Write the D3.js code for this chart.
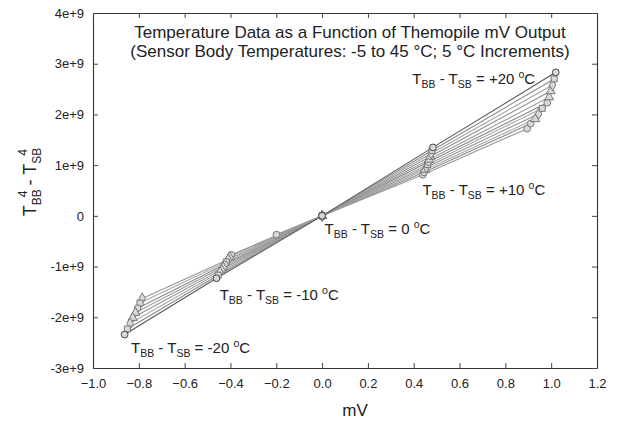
<!DOCTYPE html>
<html><head><meta charset="utf-8">
<script src="https://cdn.jsdelivr.net/npm/d3@7"></script>
<style>
html,body{margin:0;padding:0;background:#fff;}
text{font-family:"Liberation Sans",Arial,sans-serif;fill:#222;}
</style>
</head><body>
<svg id="chart" width="618" height="423"></svg>
<script>
// ---- data ----
const sensorTemps = [-5, 0, 5, 10, 15, 20, 25, 30, 35, 40, 45];   // sensor body temperature, °C
// T_BB - T_SB = +20 °C
const mvPlus20  = [0.895, 0.911, 0.930, 0.945, 0.961, 0.983, 0.991, 0.998, 1.006, 1.013, 1.020];
const valPlus20 = [1.72e9, 1.82e9, 1.91e9, 2.01e9, 2.12e9, 2.23e9, 2.34e9, 2.46e9, 2.58e9, 2.70e9, 2.83e9];
// T_BB - T_SB = +10 °C
const mvPlus10  = [0.440, 0.445, 0.450, 0.455, 0.460, 0.464, 0.468, 0.472, 0.476, 0.480, 0.484];
const valPlus10 = [0.81e9, 0.86e9, 0.91e9, 0.96e9, 1.01e9, 1.06e9, 1.11e9, 1.17e9, 1.23e9, 1.29e9, 1.35e9];
// T_BB - T_SB = 0 °C
const mvZero  = [0, 0, 0, 0, 0, 0, 0, 0, 0, 0, 0];
const valZero = [0, 0, 0, 0, 0, 0, 0, 0, 0, 0, 0];
// T_BB - T_SB = -5 °C (only the -5 °C sensor body)
const mvMinus5  = [-0.199, null, null, null, null, null, null, null, null, null, null];
const valMinus5 = [-0.37e9, null, null, null, null, null, null, null, null, null, null];
// T_BB - T_SB = -10 °C
const mvMinus10  = [null, -0.396, -0.403, -0.410, -0.418, -0.425, -0.432, -0.439, -0.446, -0.454, -0.461];
const valMinus10 = [null, -0.77e9, -0.81e9, -0.86e9, -0.91e9, -0.96e9, -1.01e9, -1.06e9, -1.11e9, -1.17e9, -1.23e9];
// T_BB - T_SB = -20 °C
const mvMinus20  = [null, null, null, -0.785, -0.795, -0.805, -0.815, -0.827, -0.838, -0.850, -0.862];
const valMinus20 = [null, null, null, -1.63e9, -1.72e9, -1.82e9, -1.91e9, -2.01e9, -2.12e9, -2.23e9, -2.34e9];

const xTicks = [-1.0, -0.8, -0.6, -0.4, -0.2, 0.0, 0.2, 0.4, 0.6, 0.8, 1.0, 1.2];
const yTicks = [-3e9, -2e9, -1e9, 0, 1e9, 2e9, 3e9, 4e9];
const titleLines = ["Temperature Data as a Function of Themopile mV Output",
                    "(Sensor Body Temperatures: -5 to 45 \u00B0C; 5 \u00B0C Increments)"];
// label anchors in data units (left end / baseline of each label)
const annotations = [
  {delta: "+20", mv: 0.394, val: 2.60e9},
  {delta: "+10", mv: 0.438, val: 0.42e9},
  {delta: "0",   mv: 0.011, val: -0.36e9},
  {delta: "-10", mv: -0.447, val: -1.66e9},
  {delta: "-20", mv: -0.834, val: -2.70e9}
];

// ---- build series ----
const levels = [[mvMinus20, valMinus20], [mvMinus10, valMinus10], [mvMinus5, valMinus5],
                [mvZero, valZero], [mvPlus10, valPlus10], [mvPlus20, valPlus20]];
const series = sensorTemps.map((t, i) => ({
  t, i,
  pts: levels.filter(l => l[0][i] !== null).map(l => ({mv: l[0][i], v: l[1][i]}))
}));

// ---- layout ----
const svg = d3.select("#chart");
const L = 93, R = 597, T = 13, B = 368;
const x = d3.scaleLinear().domain([-1.0, 1.2]).range([L, R]);
const y = d3.scaleLinear().domain([-3e9, 4e9]).range([B, T]);

const fmtY = v => v === 0 ? "0" : (v / 1e9) + "e+9";

// axes
const gx = svg.append("g").attr("transform", `translate(0,${B})`)
  .call(d3.axisBottom(x).tickValues(xTicks).tickFormat(d3.format(".1f")).tickSizeInner(-5).tickSizeOuter(0).tickPadding(11));
const gy = svg.append("g").attr("transform", `translate(${L},0)`)
  .call(d3.axisLeft(y).tickValues(yTicks).tickFormat(fmtY).tickSizeInner(-5).tickSizeOuter(0).tickPadding(9));
const gt = svg.append("g").attr("transform", `translate(0,${T})`)
  .call(d3.axisTop(x).tickValues(xTicks).tickFormat("").tickSizeInner(-5).tickSizeOuter(0));
const gr = svg.append("g").attr("transform", `translate(${R},0)`)
  .call(d3.axisRight(y).tickValues(yTicks).tickFormat("").tickSizeInner(-5).tickSizeOuter(0));
[gx, gy, gt, gr].forEach(g => {
  g.selectAll("path.domain").attr("stroke", "#333").attr("stroke-width", 1.1);
  g.selectAll(".tick line").attr("stroke", "#444");
  g.selectAll(".tick text").attr("font-size", 13).attr("fill", "#333")
    .style("font-family", '"Liberation Sans", Arial, sans-serif');
});

// series lines
const lineColors = ["#9a9a9a", "#8c8c8c", "#a5a5a5", "#959595", "#a8a8a8", "#888", "#9c9c9c", "#909090", "#a2a2a2", "#8a8a8a", "#555"];
const shapes = [d3.symbolCircle, d3.symbolCircle, d3.symbolTriangle, d3.symbolDiamond, d3.symbolSquare,
                d3.symbolCircle, d3.symbolTriangle, d3.symbolTriangle, d3.symbolDiamond, d3.symbolSquare, d3.symbolCircle];
const line = d3.line().x(d => x(d.mv)).y(d => y(d.v));
const gs = svg.append("g");
series.forEach(s => {
  gs.append("path").datum(s.pts).attr("d", line)
    .attr("fill", "none").attr("stroke", lineColors[s.i]).attr("stroke-width", 1.1);
});
series.forEach(s => {
  gs.selectAll(null).data(s.pts).enter().append("path")
    .attr("transform", d => `translate(${x(d.mv)},${y(d.v)})`)
    .attr("d", d3.symbol().type(shapes[s.i]).size(36))
    .attr("fill", "#d8d8d8").attr("stroke", s.i === 10 ? "#444" : "#777").attr("stroke-width", 1);
});

// title
svg.append("g").selectAll("text").data(titleLines).enter().append("text")
  .attr("x", 350).attr("y", (d, i) => 37.5 + i * 19).attr("text-anchor", "middle")
  .attr("font-size", 17).text(d => d);

// annotations
function sublabel(g, xx, yy, delta, fs, sfs) {
  const t = g.append("text").attr("x", xx).attr("y", yy).attr("font-size", fs);
  t.append("tspan").text("T");
  t.append("tspan").attr("font-size", sfs).attr("dy", 4).text("BB");
  t.append("tspan").attr("dy", -4).text(" - T");
  t.append("tspan").attr("font-size", sfs).attr("dy", 4).text("SB");
  t.append("tspan").attr("dy", -4).text(" = " + delta + " ");
  t.append("tspan").attr("font-size", sfs).attr("dy", -6).text("o");
  t.append("tspan").attr("dy", 6).text("C");
  return t;
}
const ga = svg.append("g");
annotations.forEach(a => sublabel(ga, x(a.mv), y(a.val), a.delta, 15, 10.5));

// axis titles
svg.append("text").attr("x", 355).attr("y", 416).attr("text-anchor", "middle").attr("font-size", 17).text("mV");
const yl = svg.append("text").attr("transform", "translate(36,182) rotate(-90)").attr("text-anchor", "middle").attr("font-size", 18);
yl.append("tspan").text("T");
yl.append("tspan").attr("font-size", 12).attr("dy", 5).text("BB");
yl.append("tspan").attr("font-size", 12).attr("dy", -14).attr("dx", -8).text("4");
yl.append("tspan").attr("dy", 9).text(" - T");
yl.append("tspan").attr("font-size", 12).attr("dy", 5).text("SB");
yl.append("tspan").attr("font-size", 12).attr("dy", -14).attr("dx", -8).text("4");
</script>
</body></html>
